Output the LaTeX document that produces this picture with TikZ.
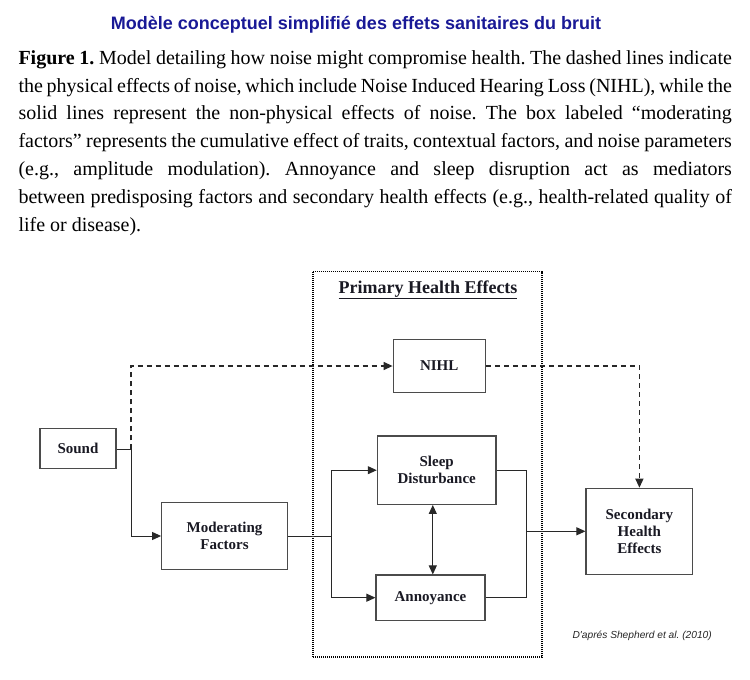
\documentclass[tikz,border=0pt]{standalone}
\usepackage{fontspec}
\setmainfont{Liberation Serif}
\newfontfamily\titlefont{Liberation Sans}
\usetikzlibrary{arrows.meta}
\definecolor{titleblue}{RGB}{25,25,150}
\definecolor{boxgray}{RGB}{75,75,75}
\definecolor{linegray}{RGB}{40,40,40}
\definecolor{txtdark}{RGB}{25,25,35}
\frenchspacing
\tikzset{
  bodyline/.style={anchor=base west, inner sep=0pt, font=\fontsize{20}{28}\selectfont},
  box/.style={draw=boxgray, line width=1.2pt, align=center, inner sep=0pt,
    text=txtdark, font=\fontsize{15}{17.3}\selectfont\bfseries},
  conn/.style={draw=linegray, line width=1pt},
  tip/.style={-{Triangle[length=9pt,width=8pt]}},
  dashline/.style={line width=1.3pt, dash pattern=on 5pt off 4pt},
}
\newcommand{\jline}[1]{\makebox[713.4pt][s]{#1}}
\begin{document}
\begin{tikzpicture}[x=1pt,y=-1pt]
\useasboundingbox (0,0) rectangle (750,680);
% title
\node[anchor=base, inner sep=0pt, text=titleblue, font=\titlefont\fontsize{18}{20}\selectfont\bfseries] (title) at (356,29.3) {Modèle conceptuel simplifié des effets sanitaires du bruit};
% caption
\node[bodyline] (l1) at (18.3,64.3) {\jline{\textbf{Figure 1.} Model detailing how noise might compromise health. The dashed lines indicate}};
\node[bodyline] (l2) at (18.3,92.1) {\jline{the physical effects of noise, which include Noise Induced Hearing Loss (NIHL), while the}};
\node[bodyline] (l3) at (18.3,119.9) {\jline{solid lines represent the non-physical effects of noise. The box labeled “moderating}};
\node[bodyline] (l4) at (18.3,147.7) {\jline{factors” represents the cumulative effect of traits, contextual factors, and noise parameters}};
\node[bodyline] (l5) at (18.3,175.5) {\jline{(e.g., amplitude modulation). Annoyance and sleep disruption act as mediators}};
\node[bodyline] (l6) at (18.3,203.3) {\jline{between predisposing factors and secondary health effects (e.g., health-related quality of}};
\node[bodyline] (l7) at (18.3,231.1) {life or disease).};
% primary health effects dotted box
\node[draw=black, line width=1.7pt, dash pattern=on 1pt off 1pt, minimum width=228.7pt, minimum height=385.8pt, inner sep=0pt] (phe) at (427.35,464.4) {};
\node[anchor=base, inner sep=0pt, text=txtdark, font=\fontsize{18}{20}\selectfont\bfseries] (phetitle) at (428,293) {\underline{Primary Health Effects}};
% boxes
\node[box, minimum width=76pt, minimum height=40pt] (sound) at (78,448.3) {Sound};
\node[box, minimum width=92pt, minimum height=53.4pt] (nihl) at (439.2,366) {NIHL};
\node[box, minimum width=118.7pt, minimum height=68.3pt] (sleep) at (436.7,470.2) {Sleep\\Disturbance};
\node[box, minimum width=109pt, minimum height=45.3pt] (annoy) at (430.5,597.7) {Annoyance};
\node[box, minimum width=125.6pt, minimum height=66.3pt] (mod) at (224.5,536) {Moderating\\Factors};
\node[box, minimum width=106.7pt, minimum height=86pt] (sec) at (639.4,531.3) {Secondary\\Health\\Effects};
% credit
\node[inner sep=0pt, text=black!85, font=\titlefont\fontsize{10.2}{12}\selectfont\itshape] (credit) at (642.2,636) {D'aprés Shepherd et al. (2010)};
% junctions
\coordinate (j1) at (131,449.3);
\coordinate (j2) at (331,536);
\coordinate (jx) at (432.8,0);
\coordinate (j6) at (526,531.3);
% connectors
\draw[conn] (sound.east |- j1) -- (j1);
\draw[conn, dashline, tip] (j1) |- (nihl.west);
\draw[conn, tip] (j1) |- (mod.west);
\draw[conn, dashline, tip] (nihl.east) -| (sec.north);
\draw[conn] (mod.east) -- (j2);
\draw[conn, tip] (j2) |- (sleep.west);
\draw[conn, tip] (j2) |- (annoy.west);
\draw[conn, {Triangle[length=9pt,width=8pt]}-{Triangle[length=9pt,width=8pt]}] (sleep.south -| jx) -- (annoy.north -| jx);
\draw[conn] (sleep.east) -| (j6);
\draw[conn] (annoy.east) -| (j6);
\draw[conn, tip] (j6) -- (sec.west);
\end{tikzpicture}
\end{document}
